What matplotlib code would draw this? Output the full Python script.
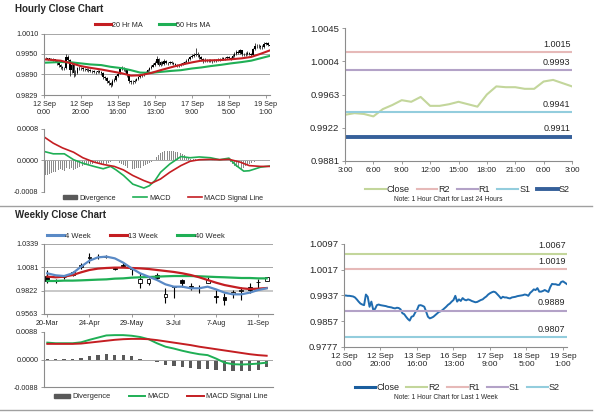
import matplotlib.pyplot as plt
import numpy as np
from matplotlib.lines import Line2D
from matplotlib.patches import Patch

plt.rcParams['font.family'] = ['Liberation Sans', 'DejaVu Sans']

# ---------------- hourly data: 12 Sep 0:00 .. 19 Sep 2:00 (trading hours only)
hour_ticks = [0, 20, 40, 60, 80, 100, 120]
hour_labels = ['12 Sep\n0:00', '12 Sep\n20:00', '13 Sep\n16:00', '16 Sep\n13:00',
               '17 Sep\n9:00', '18 Sep\n5:00', '19 Sep\n1:00']

hourly_close = [
    0.9937, 0.9937, 0.9936, 0.9936, 0.9935, 0.9934, 0.9931, 0.9925, 0.9918, 0.9912,
    0.9909, 0.9907, 0.9940, 0.9933, 0.9902, 0.9918, 0.9893, 0.9895, 0.9907, 0.9909,
    0.9907, 0.9906, 0.9905, 0.9904, 0.9902, 0.9901, 0.9900, 0.9898, 0.9897, 0.9899,
    0.9898, 0.9894, 0.9882, 0.9879, 0.9871, 0.9864, 0.9859, 0.9871, 0.9873, 0.9884,
    0.9892, 0.9906, 0.9907, 0.9905, 0.9902, 0.9887, 0.9871, 0.9866, 0.9868, 0.9871,
    0.9876, 0.9881, 0.9886, 0.9888, 0.9892, 0.9897, 0.9902, 0.9908, 0.9912, 0.9918,
    0.9923, 0.9936, 0.9918, 0.9925, 0.9920, 0.9929, 0.9924, 0.9922, 0.9925, 0.9923,
    0.9920, 0.9918, 0.9916, 0.9917, 0.9920, 0.9923, 0.9925, 0.9930, 0.9934, 0.9940,
    0.9944, 0.9947, 0.9949, 0.9947, 0.9941, 0.9935, 0.9928, 0.9933, 0.9931, 0.9931,
    0.9929, 0.9928, 0.9931, 0.9932, 0.9933, 0.9935, 0.9936, 0.9937,
    0.9938, 0.9940, 0.9939, 0.9936, 0.9945, 0.9950, 0.9956, 0.9954, 0.9960, 0.9949,
    0.9949, 0.9951, 0.9954, 0.9951, 0.9948, 0.9963, 0.9973, 0.9972, 0.9972, 0.9970,
    0.9970, 0.9979, 0.9981, 0.9977, 0.9973]
hourly_high = [
    0.9941, 0.9940, 0.9939, 0.9938, 0.9938, 0.9937, 0.9935, 0.9932, 0.9926, 0.9920,
    0.9915, 0.9912, 0.9950, 0.9948, 0.9935, 0.9925, 0.9920, 0.9903, 0.9912, 0.9914,
    0.9912, 0.9910, 0.9909, 0.9908, 0.9907, 0.9905, 0.9904, 0.9903, 0.9901, 0.9903,
    0.9902, 0.9900, 0.9896, 0.9886, 0.9882, 0.9874, 0.9867, 0.9875, 0.9878, 0.9888,
    0.9897, 0.9912, 0.9913, 0.9910, 0.9908, 0.9904, 0.9890, 0.9874, 0.9873, 0.9876,
    0.9880, 0.9885, 0.9890, 0.9892, 0.9896, 0.9901, 0.9906, 0.9912, 0.9917, 0.9923,
    0.9929, 0.9945, 0.9938, 0.9930, 0.9928, 0.9934, 0.9931, 0.9927, 0.9929, 0.9928,
    0.9925, 0.9923, 0.9921, 0.9921, 0.9924, 0.9927, 0.9929, 0.9934, 0.9939, 0.9945,
    0.9950, 0.9953, 0.9966, 0.9955, 0.9950, 0.9944, 0.9937, 0.9937, 0.9936, 0.9935,
    0.9934, 0.9932, 0.9935, 0.9936, 0.9937, 0.9939, 0.9940, 0.9941,
    0.9942, 0.9944, 0.9944, 0.9942, 0.9950, 0.9955, 0.9961, 0.9960, 0.9965, 0.9962,
    0.9954, 0.9955, 0.9958, 0.9956, 0.9953, 0.9968, 0.9983, 0.9980, 0.9978, 0.9977,
    0.9976, 0.9984, 0.9986, 0.9984, 0.9980]
hourly_low = [
    0.9934, 0.9934, 0.9933, 0.9932, 0.9931, 0.9929, 0.9926, 0.9918, 0.9912, 0.9906,
    0.9903, 0.9902, 0.9905, 0.9928, 0.9885, 0.9895, 0.9882, 0.9884, 0.9890, 0.9903,
    0.9902, 0.9901, 0.9900, 0.9899, 0.9897, 0.9896, 0.9895, 0.9893, 0.9892, 0.9893,
    0.9893, 0.9888, 0.9876, 0.9872, 0.9865, 0.9857, 0.9852, 0.9856, 0.9866, 0.9870,
    0.9881, 0.9890, 0.9902, 0.9900, 0.9896, 0.9882, 0.9865, 0.9860, 0.9862, 0.9865,
    0.9869, 0.9874, 0.9879, 0.9883, 0.9886, 0.9890, 0.9895, 0.9900, 0.9905, 0.9910,
    0.9915, 0.9920, 0.9914, 0.9915, 0.9916, 0.9918, 0.9920, 0.9918, 0.9919, 0.9919,
    0.9916, 0.9914, 0.9912, 0.9912, 0.9914, 0.9917, 0.9920, 0.9922, 0.9927, 0.9932,
    0.9937, 0.9941, 0.9943, 0.9942, 0.9936, 0.9929, 0.9923, 0.9925, 0.9926, 0.9926,
    0.9925, 0.9924, 0.9925, 0.9927, 0.9928, 0.9930, 0.9931, 0.9932,
    0.9933, 0.9934, 0.9935, 0.9932, 0.9934, 0.9942, 0.9947, 0.9949, 0.9951, 0.9945,
    0.9944, 0.9945, 0.9948, 0.9946, 0.9943, 0.9946, 0.9960, 0.9966, 0.9966, 0.9964,
    0.9965, 0.9968, 0.9975, 0.9972, 0.9968]
hourly_open = [0.9938] + hourly_close[:-1]

ma_hours = [0, 9, 15, 20, 25, 31, 36, 42, 47, 52, 58, 63, 69, 74, 80, 85, 90, 96, 101, 107, 112, 117, 122]
ma20 = [0.9934, 0.9930, 0.9922, 0.9914, 0.9909, 0.9904, 0.9899, 0.9893, 0.9886, 0.9887, 0.9894, 0.9902,
        0.9911, 0.9918, 0.9925, 0.9930, 0.9931, 0.9932, 0.9934, 0.9937, 0.9941, 0.9950, 0.9960]
ma50 = [0.9924, 0.9926, 0.9925, 0.9922, 0.9919, 0.9917, 0.9912, 0.9908, 0.9902, 0.9895, 0.9894, 0.9897,
        0.9900, 0.9902, 0.9907, 0.9910, 0.9914, 0.9918, 0.9922, 0.9926, 0.9930, 0.9937, 0.9944]

# hourly MACD
divergence_h = [v * 1e-4 for v in [
    -3.5, -3.8, -3.6, -3.4, -3.2, -3.0, -2.8, -2.6, -2.4,
    -2.2, -2.5, -2.6, -1.8, -1.5, -2.2, -2.0, -2.4, -2.2,
    -1.8, -1.6, -1.4, -1.3, -1.2, -1.1, -1.0, -0.9, -0.8, -0.7, -0.6, -0.6, -0.7, -0.9, -1.2, -1.0,
    -0.8, -0.6, -0.4, -0.2, 0.2, 0.1,
    -0.3, -0.6, -0.9, -1.2, -1.5, -1.8, -2.0, -2.1, -2.2, -2.1, -2.0, -1.9, -1.8, -1.6, -1.4, -1.2, -0.9, -0.6,
    -0.3, 0.1, 0.5, 1.0,
    1.5, 1.9, 2.2, 2.4, 2.5, 2.5, 2.4, 2.3, 2.3, 2.2, 2.1, 2.0, 1.8, 1.6, 1.3, 1.0,
    0.7, 0.5, 0.4, 0.3, 0.3, 0.2, 0.1, 0.0, 0.1, 0.2, 0.2, 0.1, 0.0, -0.1, -0.1, 0.0, 0.1, 0.1, 0.0, 0.1, 0.2, 0.1, 0.0,
    -0.4, -0.8, -1.3, -1.7, -2.0, -2.2, -2.1, -1.8, -1.5, -1.2, -0.9, -0.6, -0.4,
    -0.3, -0.2, -0.2, -0.1, -0.1, 0.0, 0.0, 0.0, 0.0]]
macd_h_hours = [0, 5, 11, 16, 21, 27, 32, 36, 39, 43, 48, 54, 57, 60, 63, 68, 74, 79, 84, 90, 95, 100, 104, 108, 111, 117, 122]
macd_h = [0.00023, 0.00017, 0.00017, 0.00002, -0.00007, -0.00015, -0.00021, -0.00015, -0.00024, -0.00038,
          -0.00060, -0.00070, -0.00064, -0.00051, -0.00030, -0.00009, 0.00010, 0.00007, 0.00009, 0.00007,
          0.00002, 0.00006, -0.00013, -0.00027, -0.00026, -0.00017, -0.00014]
signal_h_hours = [0, 5, 10, 16, 21, 27, 32, 38, 43, 48, 54, 58, 63, 68, 74, 79, 84, 90, 95, 100, 106, 111, 117, 122]
signal_h = [0.00060, 0.00044, 0.00032, 0.00021, 0.00007, -0.00004, -0.00010, -0.00015, -0.00024, -0.00038,
            -0.00051, -0.00058, -0.00047, -0.00030, -0.00013, -0.00002, 0.00002, 0.00003, 0.00002, 0.00003,
            -0.00004, -0.00013, -0.00015, -0.00015]

# last 24 hours
day_labels = ['3:00', '6:00', '9:00', '12:00', '15:00', '18:00', '21:00', '0:00', '3:00']
day_close = hourly_close[-25:]
day_level_names = ['R2', 'R1', 'S1', 'S2']
day_level_values = [1.0015, 0.9993, 0.9941, 0.9911]
week_level_names = ['R2', 'R1', 'S1', 'S2']
week_level_values = [1.0067, 1.0019, 0.9889, 0.9807]

# ---------------- weekly data: 20-Mar .. 18-Sep
week_labels = ['20-Mar', '24-Apr', '29-May', '3-Jul', '7-Aug', '11-Sep']
w_open = [0.9984, 0.9935, 0.9968, 0.9995, 1.0080, 1.0188, 1.0194, 1.0196, 1.0075, 1.0110, 1.0066, 0.9910, 0.9910,
          0.9995, 0.9748, 0.9866, 0.9940, 0.9868, 0.9846, 0.9910, 0.9760, 0.9755, 0.9785, 0.9820, 0.9866, 0.9919, 0.9933]
w_high = [1.0051, 0.9947, 0.9995, 1.0036, 1.0125, 1.0240, 1.0228, 1.0217, 1.0088, 1.0125, 1.0088, 1.0014, 0.9958,
          1.0014, 0.9848, 0.9873, 0.9947, 0.9903, 0.9884, 0.9977, 0.9829, 0.9792, 0.9829, 0.9866, 0.9903, 0.9947, 0.9977]
w_low = [0.9903, 0.9910, 0.9947, 0.9988, 1.0058, 1.0130, 1.0169, 1.0180, 1.0051, 1.0088, 0.9995, 0.9848, 0.9884,
         0.9940, 0.9681, 0.9737, 0.9866, 0.9829, 0.9792, 0.9903, 0.9681, 0.9663, 0.9737, 0.9718, 0.9800, 0.9829, 0.9933]
w_close = [0.9933, 0.9930, 0.9972, 1.0025, 1.0106, 1.0193, 1.0190, 1.0201, 1.0066, 1.0100, 1.0070, 0.9947, 0.9947,
           0.9958, 0.9781, 0.9870, 0.9903, 0.9864, 0.9850, 0.9940, 0.9752, 0.9718, 0.9811, 0.9824, 0.9829, 0.9923, 0.9970]
ma4w = [1.0014, 0.9992, 0.9984, 1.0014, 1.0088, 1.0154, 1.0191, 1.0199, 1.0180, 1.0132, 1.0069, 1.0014, 0.9977,
        0.9940, 0.9892, 0.9866, 0.9866, 0.9848, 0.9848, 0.9866, 0.9836, 0.9800, 0.9781, 0.9781, 0.9800, 0.9829, 0.9848]
ma13w = [0.9977, 0.9970, 0.9977, 0.9995, 1.0025, 1.0051, 1.0066, 1.0073, 1.0077, 1.0077, 1.0073, 1.0069, 1.0062,
         1.0051, 1.0040, 1.0029, 1.0014, 0.9995, 0.9970, 0.9940, 0.9910, 0.9884, 0.9866, 0.9848, 0.9840, 0.9844, 0.9851]
ma40w = [0.9929, 0.9929, 0.9933, 0.9933, 0.9936, 0.9940, 0.9944, 0.9947, 0.9955, 0.9958, 0.9966, 0.9970, 0.9973,
         0.9977, 0.9981, 0.9984, 0.9984, 0.9984, 0.9981, 0.9977, 0.9973, 0.9970, 0.9966, 0.9962, 0.9962, 0.9958, 0.9958]
macd_w = [0.0054, 0.0052, 0.0052, 0.0052, 0.0055, 0.0063, 0.0070, 0.0077, 0.0078, 0.0078, 0.0076, 0.0072, 0.0065,
          0.0052, 0.0041, 0.0035, 0.0028, 0.0022, 0.0017, 0.0014, 0.0003, -0.0010, -0.0015, -0.0016, -0.0015, -0.0013, -0.0010]
signal_w = [0.0050, 0.0050, 0.0050, 0.0050, 0.0051, 0.0054, 0.0057, 0.0060, 0.0063, 0.0065, 0.0066, 0.0066, 0.0065,
            0.0062, 0.0058, 0.0054, 0.0050, 0.0046, 0.0041, 0.0037, 0.0033, 0.0029, 0.0025, 0.0021, 0.0017, 0.0014, 0.0012]
divergence_w = [0.0002, 0.0002, 0.0002, 0.0002, 0.0004, 0.0011, 0.0014, 0.0017, 0.0016, 0.0014, 0.0011, 0.0003, 0.0000,
                -0.0008, -0.0016, -0.0022, -0.0024, -0.0026, -0.0029, -0.0029, -0.0035, -0.0038, -0.0038, -0.0038,
                -0.0037, -0.0033, -0.0024]

RED = '#C41E22'
GREEN = '#1FAF55'
BLUE = '#5A8AC6'
TXT = '#262626'
AX = '#8C8C8C'
W, H = 600, 413


def box(x0, y0, x1, y1):
    return [x0 / W, 1 - y1 / H, (x1 - x0) / W, (y1 - y0) / H]


def style(ax, fs, bottom=True, xfs=None):
    for s in ['top', 'right']:
        ax.spines[s].set_visible(False)
    ax.spines['left'].set_color(AX)
    ax.spines['bottom'].set_color(AX)
    ax.spines['bottom'].set_visible(bottom)
    ax.tick_params(labelsize=fs, colors=TXT, length=2, width=0.6, pad=2)
    ax.tick_params(axis='both', color=AX)
    if xfs:
        ax.tick_params(axis='x', labelsize=xfs)


fig = plt.figure(figsize=(6, 4.13), dpi=100)

fig.text(15 / W, 1 - 9 / H, 'Hourly Close Chart', fontsize=7, fontweight='bold', va='center', color=TXT)
fig.text(15 / W, 1 - 215 / H, 'Weekly Close Chart', fontsize=7, fontweight='bold', va='center', color=TXT)
for yy in [206, 410]:
    fig.add_artist(Line2D([0, 592 / W], [1 - yy / H] * 2, color='#A0A0A0', lw=1))

hours = np.arange(len(hourly_close))
o = np.array(hourly_open)
c = np.array(hourly_close)

# hourly candles
ax1 = fig.add_axes(box(44, 33.5, 270, 95))
style(ax1, 5.2)
ax1.set_xlim(0, 122.2)
ax1.set_ylim(0.9829, 1.0010)
ax1.set_yticks([0.9829, 0.9890, 0.9950, 1.0010])
ax1.set_yticklabels(['0.9829', '0.9890', '0.9950', '1.0010'])
ax1.set_xticks(hour_ticks)
ax1.set_xticklabels(hour_labels)
ax1.yaxis.grid(True, color='#A6A6A6', lw=0.7)
ax1.set_axisbelow(True)
ax1.vlines(hours, hourly_low, hourly_high, color='black', lw=0.5)
ax1.bar(hours, np.maximum(np.abs(c - o), 0.00008), bottom=np.minimum(o, c), width=0.8, color='black')
ax1.plot(ma_hours, ma50, color=GREEN, lw=1.5)
ax1.plot(ma_hours, ma20, color=RED, lw=1.5)
ax1.legend([Line2D([], [], color=RED, lw=2.2), Line2D([], [], color=GREEN, lw=2.2)],
           ['20 Hr MA', '50 Hrs MA'], loc='center', bbox_to_anchor=(0.254, 1 - 25 / H),
           bbox_transform=fig.transFigure, ncol=2, frameon=False, fontsize=5.2,
           handlelength=2.3, handletextpad=0.1, columnspacing=2.2, labelcolor=TXT)

# hourly MACD
ax2 = fig.add_axes(box(44, 129, 270, 192))
style(ax2, 5.2, bottom=False)
ax2.set_xlim(0, 122.2)
ax2.set_ylim(-0.0008, 0.0008)
ax2.set_yticks([-0.0008, 0, 0.0008])
ax2.set_yticklabels(['-0.0008', '0.0000', '0.0008'])
ax2.set_xticks([])
ax2.axhline(0, color='#A6A6A6', lw=0.7)
ax2.bar(hours, divergence_h, width=0.45, color='#8A8A8A')
ax2.plot(macd_h_hours, macd_h, color=GREEN, lw=1.2)
ax2.plot(signal_h_hours, signal_h, color=RED, lw=1.2)
ax2.legend([Patch(color='#595959'), Line2D([], [], color=GREEN, lw=1.2), Line2D([], [], color=RED, lw=1.2)],
           ['Divergence', 'MACD', 'MACD Signal Line'], loc='center', bbox_to_anchor=(0.272, 1 - 198 / H),
           bbox_transform=fig.transFigure, ncol=3, frameon=False, fontsize=5.2,
           handlelength=1.9, handleheight=0.5, handletextpad=0.3, columnspacing=2.4, labelcolor=TXT)

# last 24 hours
day_colors = ['#E6B9B8', '#B3A2C7', '#93CDDD', '#36609A']
day_widths = [1.5, 1.5, 1.5, 2.8]
ax3 = fig.add_axes(box(345, 28, 572, 161))
style(ax3, 6.8, xfs=5.8)
ax3.set_xlim(0, 24)
ax3.set_ylim(0.9881, 1.0045)
ax3.set_yticks([0.9881, 0.9922, 0.9963, 1.0004, 1.0045])
ax3.set_yticklabels(['0.9881', '0.9922', '0.9963', '1.0004', '1.0045'])
ax3.set_xticks(range(0, 25, 3))
ax3.set_xticklabels(day_labels)
ax3.plot(range(len(day_close)), day_close, color='#C3D69B', lw=1.5)
for name, val, col, lw in zip(day_level_names, day_level_values, day_colors, day_widths):
    ax3.axhline(val, color=col, lw=lw)
    ax3.annotate(f'{val:.4f}', (24, val), xytext=(-1, 2.5), textcoords='offset points',
                 ha='right', va='bottom', fontsize=6.5, color=TXT)
ax3.legend([Line2D([], [], color='#C3D69B', lw=1.5)] +
           [Line2D([], [], color=cc, lw=ww) for cc, ww in zip(day_colors, day_widths)],
           ['Close'] + day_level_names, loc='center', bbox_to_anchor=(0.779, 1 - 190 / H),
           bbox_transform=fig.transFigure, ncol=5, frameon=False, fontsize=6.5,
           handlelength=2.3, handletextpad=0.1, columnspacing=0.8, labelcolor=TXT)
fig.text(0.747, 1 - 200 / H, 'Note: 1 Hour Chart for Last 24 Hours', fontsize=4.8, ha='center', va='center', color=TXT)

# last week
week_colors = ['#C3D69B', '#E6B9B8', '#B3A2C7', '#93CDDD']
ax4 = fig.add_axes(box(344, 244, 567, 347))
style(ax4, 6.8, xfs=6.0)
ax4.set_xlim(0, 122.2)
ax4.set_ylim(0.9777, 1.0097)
ax4.set_yticks([0.9777, 0.9857, 0.9937, 1.0017, 1.0097])
ax4.set_yticklabels(['0.9777', '0.9857', '0.9937', '1.0017', '1.0097'])
ax4.set_xticks(hour_ticks)
ax4.set_xticklabels(hour_labels)
ax4.plot(hours, hourly_close, color='#1F6CB0', lw=1.4)
for name, val, col in zip(week_level_names, week_level_values, week_colors):
    ax4.axhline(val, color=col, lw=1.5)
    ax4.annotate(f'{val:.4f}', (122.2, val), xytext=(-1, 2.5), textcoords='offset points',
                 ha='right', va='bottom', fontsize=6.5, color=TXT)
ax4.legend([Line2D([], [], color='#1A5E9E', lw=2.2)] +
           [Line2D([], [], color=cc, lw=1.5) for cc in week_colors],
           ['Close'] + week_level_names, loc='center', bbox_to_anchor=(0.762, 1 - 388 / H),
           bbox_transform=fig.transFigure, ncol=5, frameon=False, fontsize=6.5,
           handlelength=2.3, handletextpad=0.1, columnspacing=0.8, labelcolor=TXT)
fig.text(0.743, 1 - 397.5 / H, 'Note: 1 Hour Chart for Last 1 Week', fontsize=4.8, ha='center', va='center', color=TXT)

# weekly candles
weeks = np.arange(len(w_close))
wo = np.array(w_open)
wc = np.array(w_close)
ax5 = fig.add_axes(box(44, 244, 273, 314))
style(ax5, 5.2)
ax5.set_xlim(-0.39, 26.75)
ax5.set_ylim(0.9563, 1.0339)
ax5.set_yticks([0.9563, 0.9822, 1.0081, 1.0339])
ax5.set_yticklabels(['0.9563', '0.9822', '1.0081', '1.0339'])
ax5.set_xticks(range(0, 26, 5))
ax5.set_xticklabels(week_labels)
ax5.yaxis.grid(True, color='#A6A6A6', lw=0.7)
ax5.get_ygridlines()[1].set(color='#C8C8C8', lw=1.4)
ax5.set_axisbelow(True)
ax5.vlines(weeks, w_low, w_high, color='black', lw=0.8, zorder=2)
up = wc >= wo
ax5.bar(weeks, np.maximum(np.abs(wc - wo), 0.0004), bottom=np.minimum(wo, wc), width=0.45,
        color=np.where(up, 'white', 'black'), edgecolor='black', lw=0.6, zorder=3)
ax5.plot(weeks, ma40w, color=GREEN, lw=1.6, zorder=4)
ax5.plot(weeks, ma13w, color=RED, lw=1.6, zorder=4)
ax5.plot(weeks, ma4w, color=BLUE, lw=1.6, zorder=5)
ax5.legend([Line2D([], [], color=BLUE, lw=2.2), Line2D([], [], color=RED, lw=2.2), Line2D([], [], color=GREEN, lw=2.2)],
           ['4 Week', '13 Week', '40 Week'], loc='center', bbox_to_anchor=(0.226, 1 - 236 / H),
           bbox_transform=fig.transFigure, ncol=3, frameon=False, fontsize=5.4,
           handlelength=2.3, handletextpad=0.1, columnspacing=2.6, labelcolor=TXT)

# weekly MACD
ax6 = fig.add_axes(box(44, 332, 273, 387))
style(ax6, 5.2)
ax6.set_xlim(-0.39, 26.75)
ax6.set_ylim(-0.0088, 0.0088)
ax6.set_yticks([-0.0088, 0, 0.0088])
ax6.set_yticklabels(['-0.0088', '0.0000', '0.0088'])
ax6.set_xticks([])
ax6.axhline(0, color='#A6A6A6', lw=0.7)
ax6.bar(weeks, divergence_w, width=0.4, color='#595959')
ax6.plot(weeks, macd_w, color=GREEN, lw=1.4)
ax6.plot(weeks, signal_w, color=RED, lw=1.4)
ax6.legend([Patch(color='#595959'), Line2D([], [], color=GREEN, lw=1.4), Line2D([], [], color=RED, lw=1.4)],
           ['Divergence', 'MACD', 'MACD Signal Line'], loc='center', bbox_to_anchor=(0.268, 1 - 397 / H),
           bbox_transform=fig.transFigure, ncol=3, frameon=False, fontsize=5.4,
           handlelength=2.2, handleheight=0.5, handletextpad=0.3, columnspacing=2.4, labelcolor=TXT)

fig.savefig('out.png', dpi=100)
